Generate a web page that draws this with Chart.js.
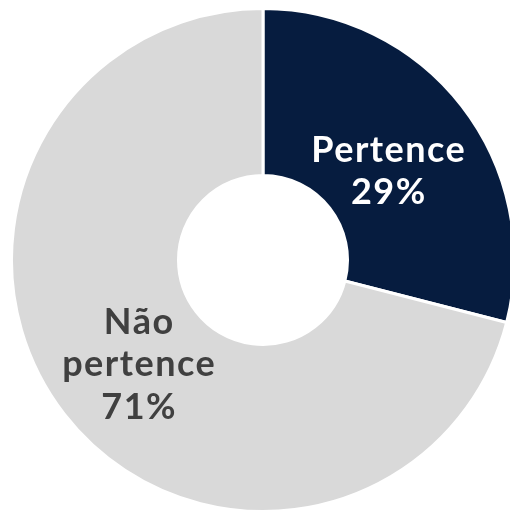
<!DOCTYPE html>
<html>
<head>
<meta charset="utf-8">
<script src="https://cdn.jsdelivr.net/npm/chart.js@4/dist/chart.umd.min.js"></script>
<style>
  html, body { margin: 0; padding: 0; background: #fff; overflow: hidden; }
  #wrap { position: absolute; left: 10px; top: 7px; width: 506px; height: 506px; }
</style>
</head>
<body>
<div id="wrap"><canvas id="pieChart"></canvas></div>
<script>
const categories = ["Pertence", "Não pertence"];
const labelLines = [["Pertence"], ["Não", "pertence"]];
const shares = [29, 71];
const sliceColors = ["#061c3f", "#d9d9d9"];
const textColors = ["#ffffff", "#404040"];

// draws the category name and percentage inside each slice
const sliceLabels = {
  id: "sliceLabels",
  afterDatasetsDraw(chart) {
    const ctx = chart.ctx;
    const meta = chart.getDatasetMeta(0);
    const fontSize = 36;
    const lineGap = 42.5;
    const yShift = 8;
    ctx.save();
    ctx.font = "bold " + fontSize + "px Lato, 'Open Sans', sans-serif";
    ctx.letterSpacing = "1.5px";
    ctx.textAlign = "center";
    ctx.textBaseline = "middle";
    meta.data.forEach((arc, i) => {
      const p = arc.getProps(["x", "y", "startAngle", "endAngle", "innerRadius", "outerRadius"], true);
      const mid = (p.startAngle + p.endAngle) / 2;
      const r = (p.innerRadius + p.outerRadius) / 2 * 0.94;
      const cx = p.x + Math.cos(mid) * r;
      const cy = p.y + Math.sin(mid) * r + yShift;
      const lines = labelLines[i].concat([shares[i] + "%"]);
      const top = cy - (lines.length - 1) * lineGap / 2;
      ctx.fillStyle = textColors[i];
      lines.forEach((t, j) => ctx.fillText(t, cx + 1, top + j * lineGap));
    });
    ctx.restore();
  },
};

new Chart(document.getElementById("pieChart").getContext("2d"), {
  type: "doughnut",
  data: {
    labels: categories,
    datasets: [
      {
        data: shares,
        backgroundColor: sliceColors,
        borderColor: "#ffffff",
        borderWidth: 3,
      },
    ],
  },
  options: {
    responsive: true,
    maintainAspectRatio: false,
    animation: false,
    cutout: "33.6%",
    layout: { padding: 0 },
    plugins: {
      legend: { display: false },
      tooltip: { enabled: false },
    },
  },
  plugins: [sliceLabels],
});
</script>
</body>
</html>
